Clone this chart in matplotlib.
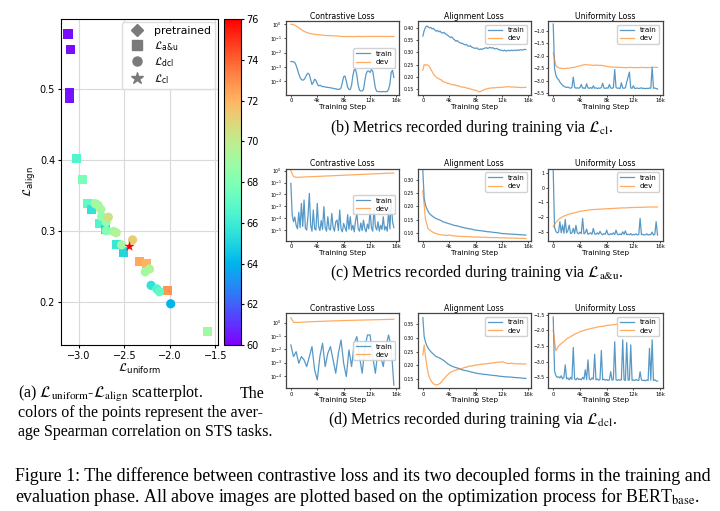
import numpy as np
import matplotlib
matplotlib.use("Agg")
import matplotlib.pyplot as plt
from matplotlib.lines import Line2D
from matplotlib.ticker import NullLocator

# ---------------- scatter data (panel a) ----------------
au_x = [-3.12, -3.09, -3.10, -3.10, -3.03, -2.96, -2.90, -2.86, -2.77, -2.71,
        -2.585, -2.51, -2.335, -2.26, -2.026, -1.585]
au_y = [0.577, 0.555, 0.494, 0.486, 0.402, 0.372, 0.338, 0.330, 0.310, 0.302,
        0.280, 0.270, 0.257, 0.254, 0.216, 0.158]
au_c = [60.3, 60.3, 60.4, 60.4, 66.5, 67.8, 67.0, 65.5, 66.5, 65.0,
        65.8, 65.0, 72.3, 72.0, 72.8, 69.0]

dcl_x = [-2.82, -2.79, -2.76, -2.75, -2.70, -2.676, -2.70, -2.62, -2.59, -2.53,
         -2.41, -2.224, -2.27, -2.206, -2.143, -2.114, -1.99]
dcl_y = [0.338, 0.336, 0.330, 0.320, 0.312, 0.319, 0.300, 0.299, 0.297, 0.280,
         0.287, 0.246, 0.242, 0.223, 0.218, 0.214, 0.197]
dcl_c = [69.0, 69.0, 69.2, 68.5, 68.8, 70.5, 68.0, 69.2, 69.5, 69.0,
         71.2, 69.5, 69.0, 65.5, 66.5, 67.0, 64.0]

cl_x = [-2.445]
cl_y = [0.278]
cl_c = [76.0]

cbar_ticks = [60, 62, 64, 66, 68, 70, 72, 74, 76]

# ---------------- training curves (panels b, c, d) ----------------
TRAIN_EVERY = 200   # steps between recorded train points
DEV_EVERY = 400     # steps between recorded dev points
step_ticks = [0, 4000, 8000, 12000, 16000]
step_labels = ["0", "4k", "8k", "12k", "16k"]

# (b) L_cl ; contrastive loss values stored as log10
b_con_train_log10 = [
    -2.63, -2.63, -2.65, -2.70, -2.90, -3.20, -3.50, -3.75, -3.90, -3.95,
    -3.90, -3.75, -3.55, -3.45, -3.55, -3.90, -4.25, -4.10, -3.88, -3.95,
    -4.20, -4.35, -4.30, -4.35, -4.40, -4.40, -4.42, -4.45, -4.45, -4.47,
    -4.48, -4.50, -4.52, -4.55, -4.55, -4.58, -4.60, -4.58, -4.50, -4.10,
    -3.70, -3.65, -4.00, -4.45, -4.60, -4.60, -4.30, -3.60, -3.20, -3.20,
    -3.60, -4.30, -4.65, -4.70, -4.70, -4.60, -4.00, -3.50, -3.30, -3.30,
    -3.40, -3.20, -3.30, -3.90, -4.50, -4.72, -4.75, -4.75, -4.75, -4.76,
    -4.75, -4.75, -4.76, -4.74, -4.60, -4.20, -3.40, -3.25, -3.75]
b_con_dev_log10 = [
    0.00, -0.02, -0.12, -0.25, -0.38, -0.50, -0.58, -0.64, -0.68, -0.71,
    -0.73, -0.75, -0.77, -0.79, -0.80, -0.80, -0.82, -0.82, -0.84, -0.85,
    -0.87, -0.87, -0.86, -0.87, -0.87, -0.86, -0.86, -0.87, -0.86, -0.86,
    -0.86, -0.86, -0.86, -0.86, -0.86, -0.86, -0.86, -0.86, -0.86, -0.86]
b_ali_train = [
    0.366, 0.388, 0.401, 0.407, 0.403, 0.399, 0.401, 0.395, 0.397, 0.391,
    0.386, 0.389, 0.383, 0.386, 0.380, 0.378, 0.381, 0.375, 0.372, 0.368,
    0.364, 0.360, 0.362, 0.355, 0.351, 0.345, 0.348, 0.342, 0.339, 0.337,
    0.336, 0.333, 0.330, 0.332, 0.326, 0.324, 0.327, 0.321, 0.319, 0.317,
    0.316, 0.318, 0.313, 0.311, 0.314, 0.312, 0.315, 0.317, 0.319, 0.316,
    0.318, 0.320, 0.317, 0.319, 0.315, 0.314, 0.316, 0.312, 0.310, 0.309,
    0.308, 0.306, 0.309, 0.305, 0.307, 0.308, 0.306, 0.309, 0.307, 0.308,
    0.309, 0.307, 0.310, 0.308, 0.311, 0.309, 0.310, 0.312, 0.311]
b_ali_dev = [
    0.228, 0.250, 0.248, 0.250, 0.247, 0.243, 0.232, 0.222, 0.212, 0.205,
    0.200, 0.196, 0.193, 0.190, 0.188, 0.183, 0.180, 0.178, 0.176, 0.174,
    0.174, 0.171, 0.168, 0.170, 0.166, 0.168, 0.163, 0.165, 0.161, 0.160,
    0.158, 0.160, 0.157, 0.156, 0.153, 0.155, 0.151, 0.150, 0.148, 0.147,
    0.146, 0.144, 0.141, 0.140, 0.142, 0.145, 0.148, 0.150, 0.151, 0.153,
    0.154, 0.155, 0.156, 0.155, 0.157, 0.156, 0.157, 0.158, 0.157, 0.158,
    0.158, 0.159, 0.160, 0.159, 0.160, 0.161, 0.160, 0.159, 0.160, 0.159,
    0.158, 0.159, 0.158, 0.158, 0.157, 0.158, 0.157, 0.158, 0.158]
b_uni_train = [
    -0.72, -2.50, -2.78, -2.90, -2.95, -3.05, -3.12, -3.18, -3.22, -3.25,
    -3.27, -3.25, -3.28, -3.30, -3.26, -2.85, -3.25, -3.30, -3.28, -3.30,
    -3.27, -3.15, -3.30, -3.28, -3.31, -3.12, -3.29, -3.30, -3.27, -3.31,
    -3.20, -3.30, -3.28, -3.31, -3.29, -3.30, -3.27, -3.10, -3.29, -3.31,
    -3.28, -3.30, -3.15, -3.29, -3.30, -3.28, -2.55, -3.27, -3.30, -3.29,
    -3.31, -3.08, -3.29, -3.30, -3.28, -3.05, -2.85, -2.65, -3.29, -3.30,
    -3.20, -3.31, -3.30, -3.29, -3.31, -3.30, -3.28, -3.31, -3.30, -3.32,
    -3.30, -3.31, -3.29, -3.30, -2.45, -3.30, -3.29, -3.31, -3.33]
b_uni_dev = [
    -1.88, -2.40, -2.48, -2.50, -2.51, -2.50, -2.49, -2.47, -2.46, -2.42,
    -2.40, -2.37, -2.35, -2.36, -2.37, -2.38, -2.37, -2.38, -2.38, -2.40,
    -2.42, -2.44, -2.45, -2.45, -2.46, -2.46, -2.47, -2.47, -2.47, -2.46,
    -2.47, -2.47, -2.47, -2.46, -2.47, -2.47, -2.47, -2.46, -2.46, -2.46]

# (c) L_a&u
c_con_train_log10 = [
    -1.07, -3.70, -4.30, -3.90, -4.60, -4.90, -3.50, -4.80, -2.75, -4.70,
    -2.47, -4.85, -5.00, -3.80, -1.91, -4.60, -5.10, -3.31, -4.90, -5.00,
    -2.75, -4.70, -5.05, -4.20, -4.95, -3.03, -4.80, -5.10, -3.88, -4.90,
    -5.00, -3.60, -4.75, -5.10, -4.30, -4.16, -5.05, -3.31, -4.90, -5.15,
    -4.44, -4.80, -5.10, -3.70, -4.95, -3.88, -5.00, -4.60, -5.15, -4.20,
    -3.60, -4.90, -5.10, -4.40, -5.05, -4.16, -4.85, -5.15, -4.50, -4.90,
    -3.31, -4.80, -5.10, -3.03, -4.70, -5.00, -4.30, -5.10, -4.60, -4.95,
    -3.88, -5.00, -4.70, -5.10, -3.40, -4.90, -2.47, -4.30, -4.80]
c_con_dev_log10 = [
    0.00, -0.50, -0.56, -0.55, -0.54, -0.53, -0.52, -0.51, -0.50, -0.49,
    -0.48, -0.47, -0.46, -0.45, -0.44, -0.43, -0.42, -0.41, -0.40, -0.39,
    -0.38, -0.37, -0.36, -0.35, -0.34, -0.33, -0.32, -0.31, -0.30, -0.29,
    -0.28, -0.27, -0.26, -0.25, -0.24, -0.23, -0.22, -0.21, -0.20, -0.19]
c_ali_train = [
    0.335, 0.230, 0.205, 0.192, 0.181, 0.173, 0.168, 0.164, 0.160, 0.157,
    0.154, 0.152, 0.150, 0.148, 0.146, 0.142, 0.141, 0.139, 0.137, 0.136,
    0.134, 0.133, 0.131, 0.129, 0.128, 0.127, 0.126, 0.125, 0.123, 0.122,
    0.120, 0.120, 0.118, 0.118, 0.116, 0.115, 0.115, 0.114, 0.112, 0.111,
    0.110, 0.110, 0.109, 0.108, 0.108, 0.107, 0.106, 0.106, 0.105, 0.104,
    0.104, 0.103, 0.103, 0.102, 0.101, 0.101, 0.100, 0.100, 0.099, 0.098,
    0.097, 0.097, 0.097, 0.096, 0.096, 0.096, 0.095, 0.095, 0.095, 0.094,
    0.094, 0.094, 0.093, 0.093, 0.093, 0.092, 0.092, 0.092, 0.091]
c_ali_dev = [
    0.260, 0.150, 0.115, 0.107, 0.101, 0.097, 0.094, 0.092, 0.091, 0.090,
    0.092, 0.089, 0.088, 0.087, 0.087, 0.086, 0.086, 0.085, 0.085, 0.084,
    0.084, 0.084, 0.083, 0.083, 0.083, 0.082, 0.082, 0.082, 0.082, 0.081,
    0.081, 0.081, 0.080, 0.080, 0.080, 0.080, 0.079, 0.079, 0.079, 0.078]
c_uni_train = [
    1.13, -2.70, -2.95, -3.05, -3.00, -2.30, -3.05, -2.53, -3.08, -2.15,
    -3.05, -2.90, -2.53, -3.10, -3.05, -2.75, -3.10, -2.55, -3.05, -3.12,
    -3.00, -3.10, -2.08, -3.12, -3.05, -2.80, -3.15, -3.10, -3.05, -3.15,
    -2.75, -3.12, -3.15, -3.05, -3.15, -2.95, -3.12, -3.18, -3.10, -3.15,
    -2.87, -3.15, -3.18, -3.10, -3.16, -3.05, -3.17, -2.87, -3.15, -3.18,
    -3.12, -3.18, -2.98, -3.15, -2.92, -3.18, -3.14, -3.18, -3.10, -3.20,
    -3.15, -3.18, -3.12, -3.20, -3.16, -2.08, -3.18, -3.15, -3.20, -3.18,
    -3.12, -3.20, -3.16, -3.18, -3.00, -3.20, -3.15, -2.30, -3.20]
c_uni_dev = [
    -2.64, -2.35, -2.15, -2.02, -1.92, -1.85, -1.79, -1.74, -1.70, -1.65,
    -1.60, -1.57, -1.55, -1.52, -1.50, -1.48, -1.47, -1.46, -1.45, -1.44,
    -1.43, -1.42, -1.41, -1.40, -1.39, -1.38, -1.37, -1.37, -1.36, -1.35,
    -1.34, -1.34, -1.33, -1.33, -1.32, -1.32, -1.31, -1.31, -1.31, -1.31]

# (d) L_dcl
d_con_train_log10 = [
    -1.68, -2.55, -2.18, -3.05, -2.55, -2.80, -3.30, -2.55, -1.80, -3.55,
    -4.30, -2.55, -1.55, -3.30, -2.30, -1.80, -2.80, -3.80, -2.30, -1.30,
    -3.05, -4.05, -2.05, -3.30, -1.55, -1.05, -2.55, -3.80, -1.93, -0.93,
    -0.93, -2.55, -3.80, -2.05, -2.55, -3.30, -1.80, -0.93, -1.80, -4.68]
d_con_dev_log10 = [
    0.375, 0.03, 0.01, 0.02, 0.03, 0.04, 0.05, 0.06, 0.07, 0.08,
    0.09, 0.09, 0.10, 0.11, 0.12, 0.12, 0.13, 0.14, 0.14, 0.15,
    0.16, 0.16, 0.17, 0.17, 0.18, 0.18, 0.19, 0.19, 0.20, 0.20,
    0.21, 0.21, 0.22, 0.22, 0.23, 0.23, 0.24, 0.24, 0.25, 0.25]
d_ali_train = [
    0.374, 0.305, 0.285, 0.272, 0.263, 0.256, 0.250, 0.245, 0.241, 0.236,
    0.232, 0.230, 0.228, 0.226, 0.223, 0.220, 0.217, 0.213, 0.209, 0.205,
    0.202, 0.199, 0.197, 0.195, 0.193, 0.192, 0.190, 0.189, 0.187, 0.185,
    0.183, 0.182, 0.181, 0.180, 0.179, 0.178, 0.176, 0.175, 0.174, 0.173,
    0.171, 0.171, 0.170, 0.169, 0.169, 0.168, 0.167, 0.167, 0.166, 0.166,
    0.165, 0.164, 0.164, 0.163, 0.163, 0.162, 0.162, 0.161, 0.160, 0.160,
    0.159, 0.159, 0.158, 0.158, 0.158, 0.157, 0.157, 0.157, 0.156, 0.156,
    0.155, 0.155, 0.155, 0.154, 0.154, 0.153, 0.153, 0.152, 0.152]
d_ali_dev = [
    0.238, 0.274, 0.232, 0.200, 0.171, 0.155, 0.145, 0.138, 0.133, 0.130,
    0.128, 0.129, 0.131, 0.134, 0.138, 0.146, 0.150, 0.156, 0.162, 0.166,
    0.171, 0.174, 0.177, 0.179, 0.181, 0.183, 0.184, 0.186, 0.185, 0.187,
    0.189, 0.191, 0.193, 0.192, 0.195, 0.197, 0.198, 0.196, 0.199, 0.200,
    0.200, 0.202, 0.201, 0.203, 0.204, 0.203, 0.205, 0.206, 0.205, 0.206,
    0.207, 0.208, 0.207, 0.209, 0.210, 0.209, 0.211, 0.212, 0.211, 0.212,
    0.213, 0.212, 0.210, 0.209, 0.207, 0.206, 0.207, 0.208, 0.207, 0.206,
    0.206, 0.205, 0.206, 0.205, 0.206, 0.205, 0.204, 0.205, 0.205]
d_uni_train = [
    -1.57, -3.30, -3.45, -3.50, -3.48, -3.52, -3.45, -3.55, -3.50, -3.10,
    -3.55, -3.52, -3.58, -3.50, -3.56, -2.54, -3.55, -3.58, -3.52, -3.57,
    -3.55, -3.58, -3.50, -3.56, -3.26, -3.57, -2.94, -3.55, -3.58, -3.52,
    -3.56, -2.76, -3.58, -3.55, -3.59, -3.57, -2.64, -3.58, -3.56, -3.59,
    -3.57, -3.60, -3.58, -3.32, -3.59, -3.57, -2.36, -3.58, -3.60, -3.57,
    -3.59, -3.58, -2.30, -3.58, -3.60, -2.39, -3.59, -3.58, -2.46, -3.60,
    -3.58, -3.60, -3.57, -3.59, -3.60, -3.32, -3.58, -3.60, -3.59, -3.61,
    -3.58, -3.60, -2.57, -3.59, -2.30, -3.60, -3.58, -3.61, -3.62]
d_uni_dev = [
    -1.98, -2.65, -2.50, -2.42, -2.35, -2.27, -2.22, -2.17, -2.12, -2.08,
    -2.04, -2.01, -1.98, -1.96, -1.94, -1.92, -1.90, -1.88, -1.87, -1.86,
    -1.84, -1.83, -1.82, -1.81, -1.80, -1.79, -1.78, -1.78, -1.77, -1.76,
    -1.76, -1.75, -1.75, -1.74, -1.74, -1.73, -1.73, -1.72, -1.72, -1.72]

# ---------------- layout helpers ----------------
W, H = 720, 511
def rect(l, t, r, b):
    return [l / W, 1 - b / H, (r - l) / W, (b - t) / H]

L_AU = r"$\mathcal{L}_{\mathrm{a}\mathrm{&}\mathrm{u}}$"

fig = plt.figure(figsize=(7.2, 5.11), dpi=100)
fig.patch.set_facecolor("white")

# ---------------- panel (a) scatter ----------------
ax = fig.add_axes(rect(60.7, 19, 218, 345))
cmap = "rainbow"
kw = dict(cmap=cmap, vmin=60, vmax=76, linewidths=0, zorder=3)
sc = ax.scatter(au_x, au_y, c=au_c, marker="s", s=44, **kw)
ax.scatter(dcl_x, dcl_y, c=dcl_c, marker="o", s=44, **kw)
ax.scatter(cl_x, cl_y, c=cl_c, marker="*", s=60, **kw)
ax.set_xlim(-3.2, -1.47)
ax.set_ylim(0.139, 0.598)
ax.set_xticks([-3.0, -2.5, -2.0, -1.5])
ax.set_yticks([0.2, 0.3, 0.4, 0.5])
ax.grid(True, color="#d9d9d9", lw=0.8)
ax.set_axisbelow(True)
ax.tick_params(labelsize=7.0, length=2.5, pad=1.5)
ax.set_xlabel(r"$\mathcal{L}_{\mathrm{uniform}}$", fontsize=8.8, labelpad=1)
ax.set_ylabel(r"$\mathcal{L}_{\mathrm{align}}$", fontsize=8.8, labelpad=2)
gray = "#7a7a7a"
handles = [
    Line2D([], [], marker="D", color=gray, ls="", ms=6, label="pretrained"),
    Line2D([], [], marker="s", color=gray, ls="", ms=6.5, label=L_AU),
    Line2D([], [], marker="o", color=gray, ls="", ms=6.5, label=r"$\mathcal{L}_{\mathrm{dcl}}$"),
    Line2D([], [], marker="*", color=gray, ls="", ms=9, label=r"$\mathcal{L}_{\mathrm{cl}}$"),
]
ax.legend(handles=handles, loc="upper right", fontsize=7.8, handletextpad=0.6,
          borderpad=0.35, labelspacing=0.25, framealpha=1.0, edgecolor="#dddddd",
          borderaxespad=0.3)

cax = fig.add_axes(rect(224, 19, 241, 345))
cb = fig.colorbar(sc, cax=cax, ticks=cbar_ticks)
cb.ax.tick_params(labelsize=7.0, length=2.5, pad=1.5)
cb.outline.set_linewidth(0.8)

# ---------------- panels (b)(c)(d) ----------------
cols = [(285.7, 399.0), (417.7, 531.0), (548.0, 662.7)]
rows = [(21.0, 95.0), (168.7, 240.7), (313.3, 388.3)]
titles = ["Contrastive Loss", "Alignment Loss", "Uniformity Loss"]

panels = [
    # row 0 : L_cl
    [dict(tr=b_con_train_log10, dv=b_con_dev_log10, log=True, ylim=(-4.99, 0.23),
          yt=[0, -1, -2, -3, -4], loc="center right"),
     dict(tr=b_ali_train, dv=b_ali_dev, log=False, ylim=(0.127, 0.427),
          yt=[0.15, 0.20, 0.25, 0.30, 0.35, 0.40], loc="upper right",
          dv_every=TRAIN_EVERY),
     dict(tr=b_uni_train, dv=b_uni_dev, log=False, ylim=(-3.57, -0.6),
          yt=[-3.5, -3.0, -2.5, -2.0, -1.5, -1.0], loc="upper right")],
    # row 1 : L_a&u
    [dict(tr=c_con_train_log10, dv=c_con_dev_log10, log=True, ylim=(-5.9, 0.17),
          yt=[0, -1, -2, -3, -4, -5], loc="center right"),
     dict(tr=c_ali_train, dv=c_ali_dev, log=False, ylim=(0.07, 0.343),
          yt=[0.10, 0.15, 0.20, 0.25, 0.30], loc="upper right"),
     dict(tr=c_uni_train, dv=c_uni_dev, log=False, ylim=(-3.58, 1.27),
          yt=[-3, -2, -1, 0, 1], loc="upper right")],
    # row 2 : L_dcl
    [dict(tr=d_con_train_log10, dv=d_con_dev_log10, log=True, ylim=(-4.93, 0.7),
          yt=[0, -1, -2, -3, -4], loc="center right", tr_every=DEV_EVERY),
     dict(tr=d_ali_train, dv=d_ali_dev, log=False, ylim=(0.116, 0.39),
          yt=[0.15, 0.20, 0.25, 0.30, 0.35], loc="upper right", dv_every=TRAIN_EVERY),
     dict(tr=d_uni_train, dv=d_uni_dev, log=False, ylim=(-3.85, -1.45),
          yt=[-3.5, -3.0, -2.5, -2.0, -1.5], loc="upper right")],
]

for r, (top, bot) in enumerate(rows):
    for c, (left, right) in enumerate(cols):
        p = panels[r][c]
        a = fig.add_axes(rect(left, top, right, bot))
        tr_every = p.get("tr_every", TRAIN_EVERY)
        dv_every = p.get("dv_every", DEV_EVERY)
        xt = np.arange(len(p["tr"])) * tr_every
        xd = np.arange(len(p["dv"])) * dv_every
        yt_vals = np.asarray(p["tr"], float)
        yd_vals = np.asarray(p["dv"], float)
        if p["log"]:
            yt_vals = 10.0 ** yt_vals
            yd_vals = 10.0 ** yd_vals
        a.plot(xt, yt_vals, color="C0", lw=0.9, alpha=0.75, label="train")
        a.plot(xd, yd_vals, color="C1", lw=0.9, alpha=0.65, label="dev")
        if p["log"]:
            a.set_yscale("log")
            a.set_ylim(10.0 ** p["ylim"][0], 10.0 ** p["ylim"][1])
            a.set_yticks([10.0 ** e for e in p["yt"]])
            a.yaxis.set_minor_locator(NullLocator())
        else:
            a.set_ylim(*p["ylim"])
            a.set_yticks(p["yt"])
        a.set_xticks(step_ticks)
        a.set_xticklabels(step_labels)
        a.tick_params(labelsize=3.3, length=1.5, width=0.5, pad=1)
        a.tick_params(axis="x", labelsize=3.8)
        for s in a.spines.values():
            s.set_linewidth(0.9)
            s.set_edgecolor("#444444")
        a.set_title(titles[c], fontsize=5.6, pad=1.8)
        a.set_xlabel("Training Step", fontsize=5.2, labelpad=0.5)
        a.legend(loc=p["loc"], fontsize=5.2, handlelength=2.0, borderpad=0.35,
                 labelspacing=0.3, handletextpad=0.8, framealpha=0.9,
                 edgecolor="#cccccc")

# ---------------- captions ----------------
serif = dict(family="Liberation Serif", math_fontfamily="stix", color="black")
cap = 11.5
fig.text(330 / W, 1 - 128 / H, r"(b) Metrics recorded during training via $\mathcal{L}_{\mathrm{cl}}$.",
         fontsize=cap, va="center", ha="left", **serif)
fig.text(330 / W, 1 - 273 / H, "(c) Metrics recorded during training via " + L_AU + ".",
         fontsize=cap, va="center", ha="left", **serif)
fig.text(328 / W, 1 - 420 / H, r"(d) Metrics recorded during training via $\mathcal{L}_{\mathrm{dcl}}$.",
         fontsize=cap, va="center", ha="left", **serif)

fig.text(18 / W, 1 - 394 / H,
         r"(a) $\mathcal{L}_{\mathrm{uniform}}$-$\mathcal{L}_{\mathrm{align}}$ scatterplot.",
         fontsize=cap, va="center", ha="left", **serif)
fig.text(264 / W, 1 - 394 / H, "The", fontsize=cap, va="center", ha="right", **serif)
fig.text(18 / W, 1 - 413 / H, "colors of the points represent the aver-",
         fontsize=cap, va="center", ha="left", **serif)
fig.text(18 / W, 1 - 432 / H, "age Spearman correlation on STS tasks.",
         fontsize=cap, va="center", ha="left", **serif)

fig.text(15 / W, 1 - 476 / H,
         "Figure 1: The difference between contrastive loss and its two decoupled forms in the training and",
         fontsize=12.85, va="center", ha="left", **serif)
fig.text(15 / W, 1 - 497 / H,
         r"evaluation phase. All above images are plotted based on the optimization process for BERT$_{\mathrm{base}}$.",
         fontsize=12.85, va="center", ha="left", **serif)

fig.savefig("out.png", dpi=100, facecolor="white")
